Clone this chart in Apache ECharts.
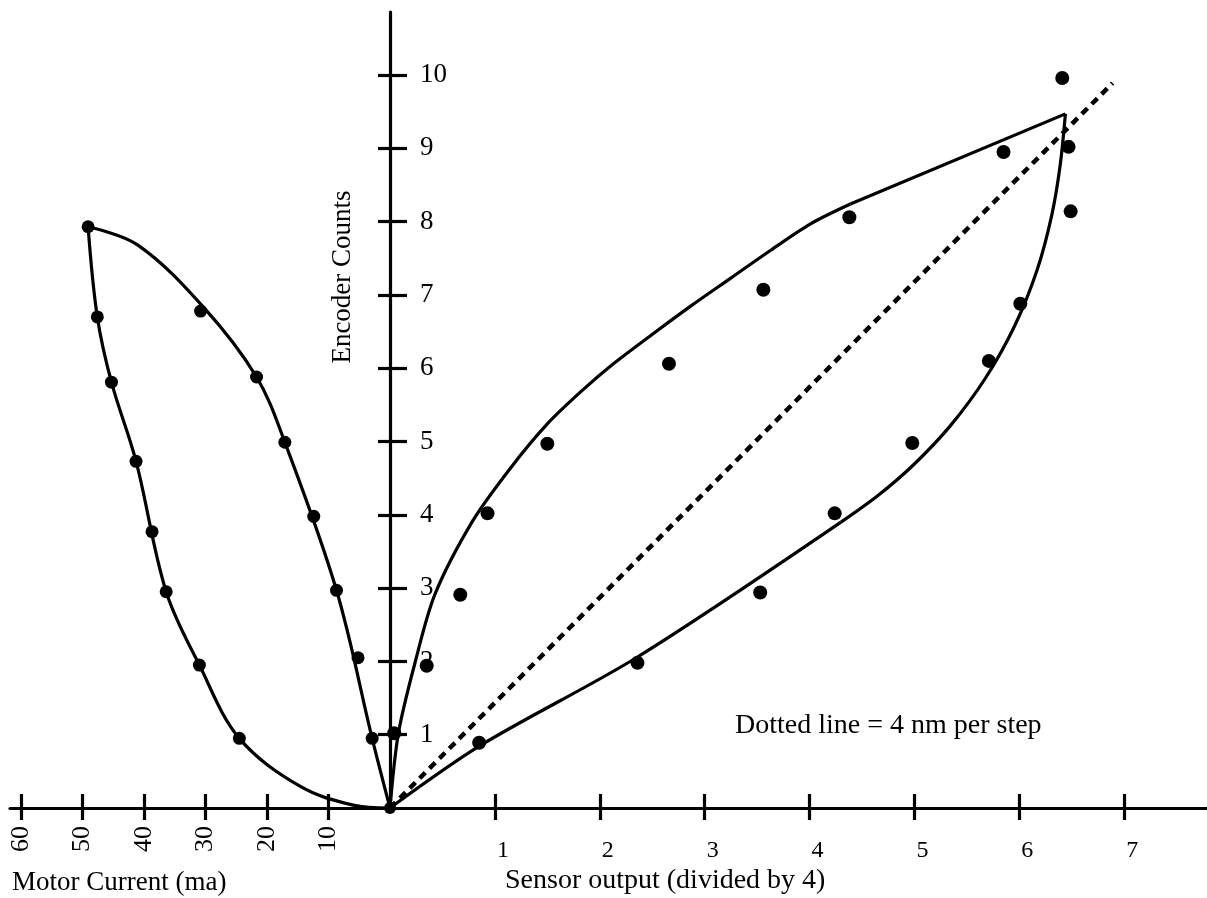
<!DOCTYPE html>
<html>
<head>
<meta charset="utf-8">
<script src="https://cdn.jsdelivr.net/npm/echarts@6/dist/echarts.min.js"></script>
<style>
html,body{margin:0;padding:0;background:#fff;}
#chart{width:1207px;height:898px;}
</style>
</head>
<body>
<div id="chart"></div>
<script>
// ---------- data ----------
// Left panel: [motor current (ma), encoder counts]
const motorTicks = [10, 20, 30, 40, 50, 60];
const leftOuterDots = [[49.1,7.93],[47.6,6.70],[45.3,5.81],[41.3,4.73],[38.7,3.77],[36.4,2.95],[31.0,1.95],[24.5,0.95]];
const leftInnerDots = [[30.8,6.78],[21.7,5.88],[17.1,4.99],[12.4,3.98],[8.7,2.97],[5.2,2.05],[2.9,0.95]];
const leftOuterCurve = [[49.1,7.93],[47.6,6.70],[45.3,5.81],[41.3,4.73],[36.4,2.95],[31.0,1.95],[24.5,0.95],[14.5,0.29],[6.0,0.04],[0,0]];
const leftInnerCurve = [[0,0],[2.9,0.95],[8.7,2.97],[17.1,4.99],[21.7,5.88],[30.3,6.83],[41.0,7.68],[49.1,7.93]];

// Right panel: [sensor output (divided by 4), encoder counts]
const sensorTicks = [1, 2, 3, 4, 5, 6, 7];
const encoderTicks = [1, 2, 3, 4, 5, 6, 7, 8, 9, 10];
const rightUpperDots = [[0.04,1.02],[0.35,1.94],[0.67,2.91],[0.93,4.02],[1.50,4.97],[2.66,6.06],[3.56,7.07],[4.38,8.06],[5.85,8.95],[6.41,9.96]];
const rightLowerDots = [[0.85,0.89],[2.36,1.98],[3.53,2.94],[4.24,4.02],[4.98,4.98],[5.71,6.10],[6.01,6.88],[6.49,8.14],[6.47,9.02]];
const rightUpperCurve = [[0,0],[0.08,1.02],[0.24,1.99],[0.43,2.92],[0.79,3.92],[1.15,4.64],[1.50,5.24],[1.82,5.68],[2.13,6.06],[2.49,6.45],[2.87,6.85],[3.25,7.23],[3.63,7.61],[4.01,7.97],[4.39,8.24]];
const rightUpperStraight = [[4.39,8.24],[6.44,9.47]];
const rightLowerStraight = [[0,0],[0.87,0.86],[2.36,2.06],[4.30,3.90]];
const rightLowerCurve = [[4.30,3.90],[4.65,4.26],[4.99,4.68],[5.34,5.21],[5.68,5.87],[5.96,6.59],[6.17,7.34],[6.31,8.09],[6.39,8.77],[6.44,9.47]];
const dottedLine = [[0,0],[6.89,9.89]];
const originDot = [[0,0]];

// ---------- chart ----------
const FONT = 'Liberation Serif';
const chart = echarts.init(document.getElementById('chart'));
const black = '#000';
const lineW = 3.2;
const SM = 0.35;
const dotStyle = { color: black, opacity: 1 };

const option = {
  animation: false,
  backgroundColor: '#fff',
  grid: [
    { left: 10, width: 380, top: 12, bottom: 90 },
    { left: 390, right: 0, top: 12, bottom: 90 }
  ],
  xAxis: [
    { // motor current, outward ticks + labels
      type: 'value', gridIndex: 0, position: 'bottom', inverse: true, min: 0, max: 61.8,
      axisLine: { show: true, onZero: false, lineStyle: { color: black, width: lineW } },
      axisTick: { show: true, customValues: motorTicks, length: 12, lineStyle: { color: black, width: lineW } },
      axisLabel: { show: true, customValues: motorTicks, rotate: 90, margin: 18, color: black, fontFamily: FONT, fontSize: 26 },
      splitLine: { show: false }
    },
    { // motor current, inward ticks
      type: 'value', gridIndex: 0, position: 'bottom', inverse: true, min: 0, max: 61.8,
      axisLine: { show: false, onZero: false },
      axisTick: { show: true, inside: true, customValues: motorTicks, length: 14, lineStyle: { color: black, width: lineW } },
      axisLabel: { show: false }, splitLine: { show: false }
    },
    { // sensor output, outward ticks + labels
      type: 'value', gridIndex: 1, position: 'bottom', min: 0, max: 7.79,
      axisLine: { show: true, onZero: false, lineStyle: { color: black, width: lineW } },
      axisTick: { show: true, customValues: sensorTicks, length: 12, lineStyle: { color: black, width: lineW } },
      axisLabel: { show: true, customValues: sensorTicks, margin: 31, padding: [0, 0, 0, 16], color: black, fontFamily: FONT, fontSize: 24 },
      splitLine: { show: false }
    },
    { // sensor output, inward ticks
      type: 'value', gridIndex: 1, position: 'bottom', min: 0, max: 7.79,
      axisLine: { show: false, onZero: false },
      axisTick: { show: true, inside: true, customValues: sensorTicks, length: 14, lineStyle: { color: black, width: lineW } },
      axisLabel: { show: false }, splitLine: { show: false }
    }
  ],
  yAxis: [
    { type: 'value', gridIndex: 0, min: 0, max: 10.86, show: false },
    { // encoder counts, outward ticks, labels inside (to the right)
      type: 'value', gridIndex: 1, min: 0, max: 10.86, position: 'left',
      axisLine: { show: true, onZero: false, lineStyle: { color: black, width: lineW } },
      axisTick: { show: true, customValues: encoderTicks, length: 12, lineStyle: { color: black, width: lineW } },
      axisLabel: { show: true, inside: true, customValues: encoderTicks, margin: 30, color: black, fontFamily: FONT, fontSize: 27 },
      splitLine: { show: false }
    },
    { // encoder counts, inward ticks
      type: 'value', gridIndex: 1, min: 0, max: 10.86, position: 'left',
      axisLine: { show: false, onZero: false },
      axisTick: { show: true, inside: true, customValues: encoderTicks, length: 17, lineStyle: { color: black, width: lineW } },
      axisLabel: { show: false }, splitLine: { show: false }
    }
  ],
  series: [
    { type: 'line', xAxisIndex: 0, yAxisIndex: 0, data: leftOuterCurve, smooth: SM, symbol: 'none', lineStyle: { color: black, width: lineW } },
    { type: 'line', xAxisIndex: 0, yAxisIndex: 0, data: leftInnerCurve, smooth: SM, symbol: 'none', lineStyle: { color: black, width: lineW } },
    { type: 'scatter', xAxisIndex: 0, yAxisIndex: 0, data: leftOuterDots, symbolSize: 13, itemStyle: dotStyle },
    { type: 'scatter', xAxisIndex: 0, yAxisIndex: 0, data: leftInnerDots, symbolSize: 13, itemStyle: dotStyle },
    { type: 'line', xAxisIndex: 2, yAxisIndex: 1, data: rightUpperCurve, smooth: 0.3, symbol: 'none', lineStyle: { color: black, width: lineW } },
    { type: 'line', xAxisIndex: 2, yAxisIndex: 1, data: rightUpperStraight, symbol: 'none', lineStyle: { color: black, width: lineW } },
    { type: 'line', xAxisIndex: 2, yAxisIndex: 1, data: rightLowerStraight, smooth: 0.3, symbol: 'none', lineStyle: { color: black, width: lineW } },
    { type: 'line', xAxisIndex: 2, yAxisIndex: 1, data: rightLowerCurve, smooth: 0.3, symbol: 'none', lineStyle: { color: black, width: lineW } },
    { type: 'line', xAxisIndex: 2, yAxisIndex: 1, data: dottedLine, symbol: 'none', lineStyle: { color: black, width: 4.5, type: [8, 6] } },
    { type: 'scatter', xAxisIndex: 2, yAxisIndex: 1, data: rightUpperDots, symbolSize: 14, itemStyle: dotStyle },
    { type: 'scatter', xAxisIndex: 2, yAxisIndex: 1, data: rightLowerDots, symbolSize: 14, itemStyle: dotStyle },
    { type: 'scatter', xAxisIndex: 2, yAxisIndex: 1, data: originDot, symbolSize: 12, itemStyle: dotStyle }
  ],
  graphic: [
    { type: 'text', x: 343, y: 277, rotation: Math.PI / 2,
      style: { text: 'Encoder Counts', fill: black, font: '27px "Liberation Serif"', textAlign: 'center', textVerticalAlign: 'middle' } },
    { type: 'text', x: 12, y: 883,
      style: { text: 'Motor Current (ma)', fill: black, font: '27px "Liberation Serif"', textAlign: 'left', textVerticalAlign: 'middle' } },
    { type: 'text', x: 505, y: 881,
      style: { text: 'Sensor output (divided by 4)', fill: black, font: '28px "Liberation Serif"', textAlign: 'left', textVerticalAlign: 'middle' } },
    { type: 'text', x: 735, y: 726,
      style: { text: 'Dotted line = 4 nm per step', fill: black, font: '28px "Liberation Serif"', textAlign: 'left', textVerticalAlign: 'middle' } }
  ]
};
chart.setOption(option);
</script>
</body>
</html>
